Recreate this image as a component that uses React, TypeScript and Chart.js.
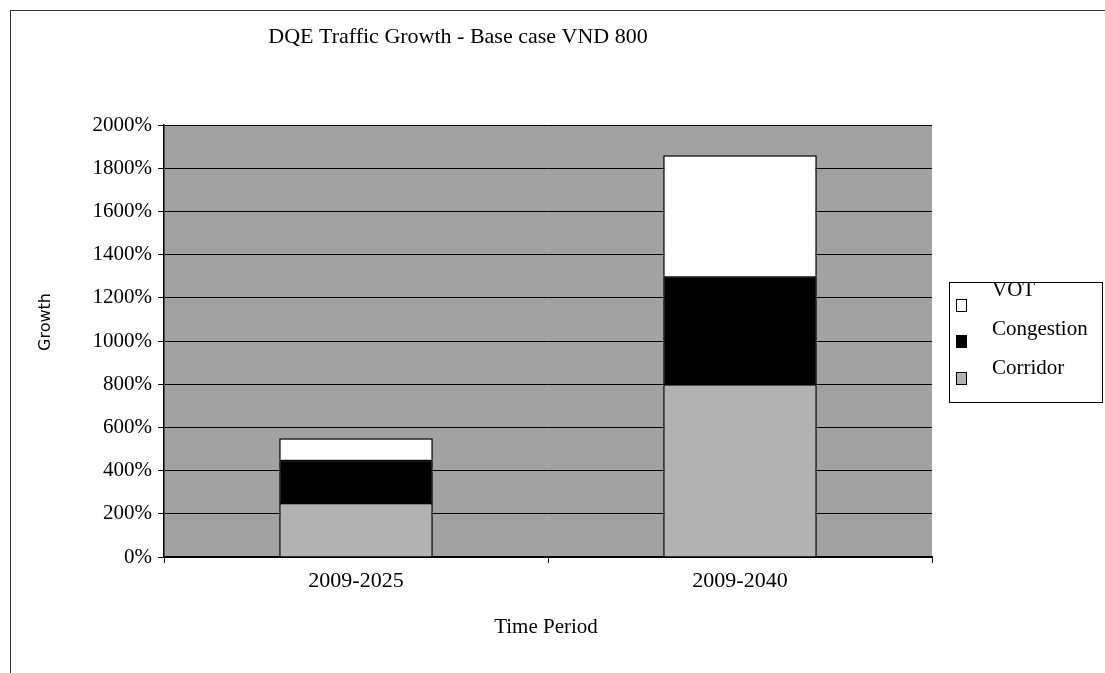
import React, { useEffect, useRef } from "react";
import { Chart, registerables } from "chart.js";

Chart.register(...registerables);

const categories = ["2009-2025", "2009-2040"];
const corridor = [250, 800];
const congestion = [200, 500];
const vot = [100, 560];
const seriesNames = ["VOT", "Congestion", "Corridor"];
const yMin = 0;
const yMax = 2000;
const yStep = 200;
const chartTitle = "DQE Traffic Growth - Base case VND 800";
const yTitle = "Growth";
const xTitle = "Time Period";

const SERIF = "'Liberation Serif', 'Times New Roman', serif";
const SANS = "'DejaVu Sans', sans-serif";
const PLOT_BG = "#a2a2a2";
const CORRIDOR_C = "#b2b2b2";
const CONGESTION_C = "#000000";
const VOT_C = "#ffffff";

export default function App() {
  const ref = useRef<HTMLCanvasElement | null>(null);

  useEffect(() => {
    if (!ref.current) return;
    const bgPlugin = {
      id: "plotBg",
      beforeDraw(chart: any) {
        const { ctx, chartArea } = chart;
        ctx.save();
        ctx.fillStyle = "#ffffff";
        ctx.fillRect(0, 0, chart.width, chart.height);
        ctx.fillStyle = PLOT_BG;
        ctx.fillRect(chartArea.left, chartArea.top, chartArea.right - chartArea.left, chartArea.bottom - chartArea.top);
        ctx.restore();
      },
    };
    const textPlugin = {
      id: "texts",
      afterDraw(chart: any) {
        const { ctx } = chart;
        ctx.save();
        ctx.fillStyle = "#000";
        ctx.textAlign = "center";
        ctx.textBaseline = "middle";
        ctx.font = `22px ${SERIF}`;
        ctx.fillText(chartTitle, 458, 37);
        ctx.font = `21px ${SERIF}`;
        ctx.fillText(xTitle, 546, 627);
        ctx.save();
        ctx.translate(46, 322);
        ctx.rotate(-Math.PI / 2);
        ctx.font = `16px ${SANS}`;
        ctx.fillText(yTitle, 0, 0);
        ctx.restore();
        // legend
        ctx.strokeStyle = "#000";
        ctx.lineWidth = 1;
        ctx.strokeRect(949.5, 282.5, 153, 120);
        const swatch = [VOT_C, CONGESTION_C, CORRIDOR_C];
        const swY = [305, 341, 378];
        const txY = [290, 329, 368];
        ctx.textAlign = "left";
        ctx.font = `21px ${SERIF}`;
        seriesNames.forEach((n, i) => {
          ctx.fillStyle = swatch[i];
          ctx.fillRect(956, swY[i] - 6, 10, 12);
          ctx.strokeRect(956.5, swY[i] - 5.5, 10, 12);
          ctx.fillStyle = "#000";
          ctx.fillText(n, 992, txY[i]);
        });
        ctx.restore();
      },
    };

    const chart = new Chart(ref.current, {
      type: "bar",
      data: {
        labels: categories,
        datasets: [
          { label: "Corridor", data: corridor, backgroundColor: CORRIDOR_C, borderColor: "#000", borderWidth: 1.5 },
          { label: "Congestion", data: congestion, backgroundColor: CONGESTION_C, borderColor: "#000", borderWidth: 1.5 },
          { label: "VOT", data: vot, backgroundColor: VOT_C, borderColor: "#000", borderWidth: 1.5 },
        ],
      },
      options: {
        responsive: false,
        animation: false,
        devicePixelRatio: 1,
        layout: { padding: { left: 0, top: 125, right: 173, bottom: 56 } },
        plugins: { legend: { display: false }, title: { display: false }, tooltip: { enabled: false } },
        datasets: { bar: { categoryPercentage: 1, barPercentage: 0.4 } },
        scales: {
          x: {
            stacked: true,
            afterFit(s: any) { s.height = 60; },
            grid: { drawOnChartArea: false, drawTicks: true, tickLength: 6, color: "#000", offset: true },
            border: { display: true, color: "#000", width: 1.5 },
            ticks: { color: "#000", font: { family: SERIF, size: 22 }, padding: 5, maxRotation: 0 },
          },
          y: {
            stacked: true,
            min: yMin,
            max: yMax,
            afterFit(s: any) { s.width = 164; },
            grid: { color: "#000", lineWidth: 1, tickLength: 6, drawTicks: true },
            border: { display: true, color: "#000", width: 1.5 },
            ticks: {
              stepSize: yStep,
              color: "#000",
              font: { family: SERIF, size: 21 },
              padding: 6,
              callback: (v: any) => `${v}%`,
            },
          },
        },
      },
      plugins: [bgPlugin, textPlugin],
    });
    return () => chart.destroy();
  }, []);

  return (
    <div>
      <canvas
        ref={ref}
        width={1105}
        height={673}
        style={{ position: "absolute", left: 0, top: 0, width: 1105, height: 673 }}
      />
      <div
        style={{
          position: "absolute",
          left: 10,
          top: 10,
          width: 1094,
          height: 662,
          borderLeft: "1px solid #333",
          borderTop: "1px solid #333",
          pointerEvents: "none",
        }}
      />
    </div>
  );
}
